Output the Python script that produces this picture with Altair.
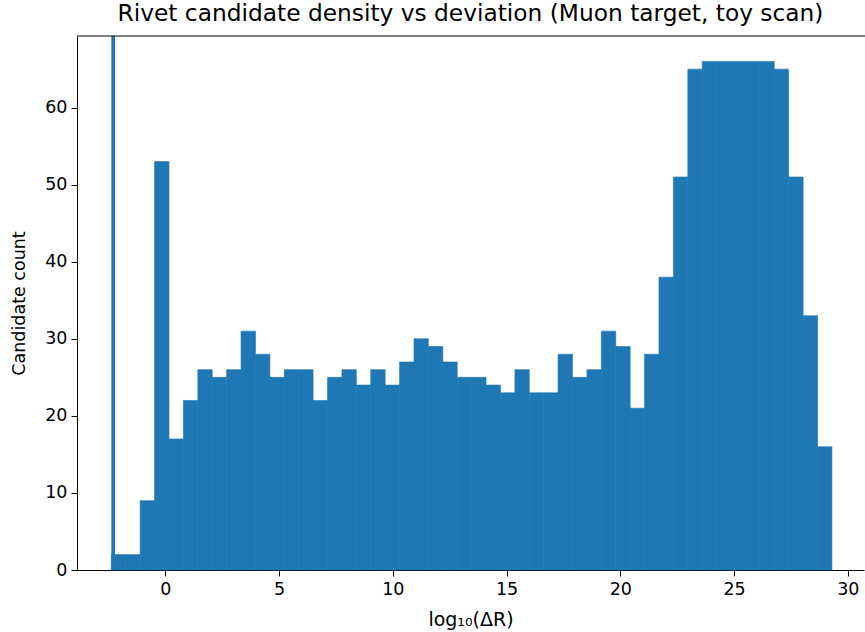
import altair as alt
import numpy as np
import pandas as pd

# Histogram counts per bin (50 equal-width bins)
counts = [2, 2, 9, 53, 17, 22, 26, 25, 26, 31,
          28, 25, 26, 26, 22, 25, 26, 24, 26, 24,
          27, 30, 29, 27, 25, 25, 24, 23, 26, 23,
          23, 28, 25, 26, 31, 29, 21, 28, 38, 51,
          65, 66, 66, 66, 66, 66, 65, 51, 33, 16]
# Histogram range along log10(dR)
range_lo, range_hi = -2.37, 29.30
# Reference marker position
marker_x = [-2.29]
x_ticks = [0, 5, 10, 15, 20, 25, 30]
y_ticks = [0, 10, 20, 30, 40, 50, 60]

edges = np.linspace(range_lo, range_hi, len(counts) + 1)
hist = pd.DataFrame({"bin_start": edges[:-1], "bin_end": edges[1:], "count": counts})
marker = pd.DataFrame({"x": marker_x})

FONT = "DejaVu Sans"
BLUE = "#1f77b4"
W, H = 787, 534

x_scale = alt.Scale(domain=[-3.88, 30.71], nice=False, zero=False)
y_scale = alt.Scale(domain=[0, 69.3], nice=False, zero=True)

# Thin same-colour outline hides the seams between neighbouring bins
bars = alt.Chart(hist).mark_rect(color=BLUE, stroke=BLUE, strokeWidth=0.6).encode(
    x=alt.X("bin_start:Q", scale=x_scale,
            axis=alt.Axis(values=x_ticks, title="log₁₀(ΔR)", format="d",
                          titleFontSize=19, titlePadding=13)),
    x2="bin_end:Q",
    y=alt.Y("count:Q", scale=y_scale,
            axis=alt.Axis(values=y_ticks, title="Candidate count", format="d",
                          titlePadding=16)),
    y2=alt.datum(0),
)

rule = alt.Chart(marker).mark_rule(color=BLUE, strokeWidth=3.6).encode(
    x=alt.X("x:Q", scale=x_scale)
)

# Top frame line
top_spine = alt.Chart(marker).mark_rule(color="black", strokeWidth=1).encode(
    x=alt.value(0), x2=alt.value(W + 5), y=alt.value(0)
)

chart = alt.layer(bars, rule, top_spine).properties(
    width=W,
    height=H,
    title=alt.TitleParams(
        "Rivet candidate density vs deviation (Muon target, toy scan)",
        font=FONT, fontSize=23.3, fontWeight="normal", color="black",
        anchor="middle", offset=8,
    ),
    padding={"left": 77, "top": 36, "right": 1, "bottom": 62},
    autosize=alt.AutoSizeParams(type="none"),
).configure_view(
    stroke=None
).configure_axis(
    grid=False,
    domainColor="black",
    domainWidth=1,
    tickColor="black",
    tickSize=6,
    tickWidth=1,
    labelFont=FONT,
    labelFontSize=17.5,
    labelColor="black",
    labelPadding=4,
    titleFont=FONT,
    titleFontSize=17.5,
    titleFontWeight="normal",
    titleColor="black",
)

chart.save("out.html", embed_options={"renderer": "svg", "actions": False})
